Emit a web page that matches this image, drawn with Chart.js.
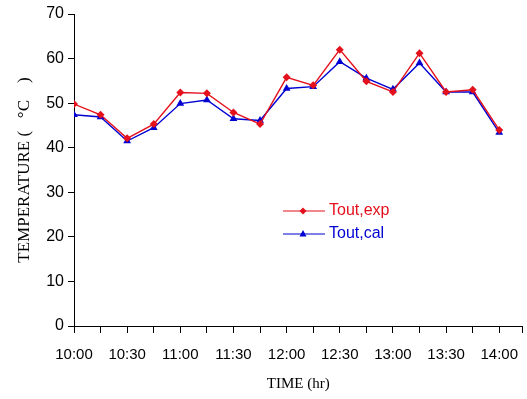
<!DOCTYPE html>
<html>
<head>
<meta charset="utf-8">
<script src="https://cdn.jsdelivr.net/npm/chart.js@4/dist/chart.umd.min.js"></script>
<style>
  html, body { margin: 0; padding: 0; background: #fff; }
  #wrap { width: 527px; height: 399px; }
</style>
</head>
<body>
<div id="wrap"><canvas id="c" width="527" height="399"></canvas></div>
<script>
// time axis: 17 readings, every 15 min from 10:00 to 14:00
const tickLabels = ['10:00', '10:30', '11:00', '11:30', '12:00', '12:30', '13:00', '13:30', '14:00'];
const toutExp = [49.8, 47.4, 42.1, 45.3, 52.4, 52.2, 47.9, 45.3, 55.8, 54.0, 62.0, 54.9, 52.5, 61.2, 52.5, 53.0, 44.0];
const toutCal = [47.4, 46.9, 41.5, 44.5, 49.9, 50.7, 46.5, 46.1, 53.3, 53.7, 59.3, 55.6, 53.1, 59.0, 52.5, 52.5, 43.4];

const RED = '#e4101c';
const BLUE = '#0000d2';
const X_END = 16.875; // axis runs a bit past the last reading

const toXY = arr => arr.map((v, i) => ({ x: i, y: v }));

// legend drawn inside the plot, as in the figure
const innerLegend = {
  id: 'innerLegend',
  afterDraw(chart) {
    const ctx = chart.ctx;
    const rows = [
      { text: 'Tout,exp', color: RED, y: 211, shape: 'diamond' },
      { text: 'Tout,cal', color: BLUE, y: 234, shape: 'triangle' }
    ];
    ctx.save();
    ctx.font = '16px "Liberation Sans", Arial, sans-serif';
    ctx.textBaseline = 'middle';
    rows.forEach(r => {
      ctx.strokeStyle = r.color;
      ctx.fillStyle = r.color;
      ctx.lineWidth = 1.2;
      ctx.beginPath();
      ctx.moveTo(283, r.y);
      ctx.lineTo(325, r.y);
      ctx.stroke();
      ctx.beginPath();
      if (r.shape === 'diamond') {
        ctx.moveTo(303, r.y - 3.5); ctx.lineTo(306.5, r.y); ctx.lineTo(303, r.y + 3.5); ctx.lineTo(299.5, r.y);
      } else {
        ctx.moveTo(303, r.y - 4); ctx.lineTo(306.5, r.y + 2.5); ctx.lineTo(299.5, r.y + 2.5);
      }
      ctx.closePath();
      ctx.fill();
      ctx.fillText(r.text, 329, r.y);
    });
    ctx.restore();
  }
};

new Chart(document.getElementById('c'), {
  type: 'line',
  data: {
    datasets: [
      {
        label: 'Tout,exp',
        data: toXY(toutExp),
        borderColor: RED,
        backgroundColor: RED,
        borderWidth: 1.4,
        pointStyle: 'rectRot',
        pointRadius: 4,
        pointBorderWidth: 0,
        tension: 0
      },
      {
        label: 'Tout,cal',
        data: toXY(toutCal),
        borderColor: BLUE,
        backgroundColor: BLUE,
        borderWidth: 1.4,
        pointStyle: 'triangle',
        pointRadius: 4.5,
        pointBorderWidth: 0,
        tension: 0
      }
    ]
  },
  options: {
    responsive: false,
    animation: false,
    devicePixelRatio: 1,
    layout: { padding: { top: 14, right: 3, left: 0, bottom: 0 } },
    plugins: {
      legend: { display: false },
      tooltip: { enabled: false }
    },
    scales: {
      x: {
        type: 'linear',
        min: 0,
        max: X_END,
        border: { color: '#000', width: 1 },
        grid: { drawOnChartArea: false, drawTicks: true, tickLength: 7, color: '#000' },
        afterBuildTicks(scale) {
          const t = [];
          for (let i = 0; i < toutExp.length; i++) t.push({ value: i });
          t.push({ value: X_END });
          scale.ticks = t;
        },
        ticks: {
          autoSkip: false,
          maxRotation: 0,
          padding: 13,
          color: '#000',
          font: { family: '"Liberation Sans", Arial, sans-serif', size: 15 },
          callback: v => (Number.isInteger(v) && v % 2 === 0) ? tickLabels[v / 2] : ''
        },
        title: {
          display: true,
          text: 'TIME (hr)',
          color: '#000',
          font: { family: '"Liberation Serif", "Times New Roman", serif', size: 15 },
          padding: { top: 4, bottom: 6 }
        },
        afterFit(scale) {
          scale.height = 73;
          scale.paddingLeft = 0;
          scale.paddingRight = 0;
        }
      },
      y: {
        min: 0,
        max: 70,
        border: { color: '#000', width: 1 },
        grid: { drawOnChartArea: false, drawTicks: true, tickLength: 6, color: '#000' },
        ticks: {
          stepSize: 10,
          padding: 4,
          color: '#000',
          font: { family: '"Liberation Sans", Arial, sans-serif', size: 16 }
        },
        title: {
          display: true,
          text: 'TEMPERATURE (   °C    )',
          color: '#000',
          font: { family: '"Liberation Serif", "Times New Roman", serif', size: 17 },
          padding: { top: 14, bottom: 0 }
        },
        afterFit(scale) { scale.width = 74; }
      }
    }
  },
  plugins: [innerLegend]
});
</script>
</body>
</html>
